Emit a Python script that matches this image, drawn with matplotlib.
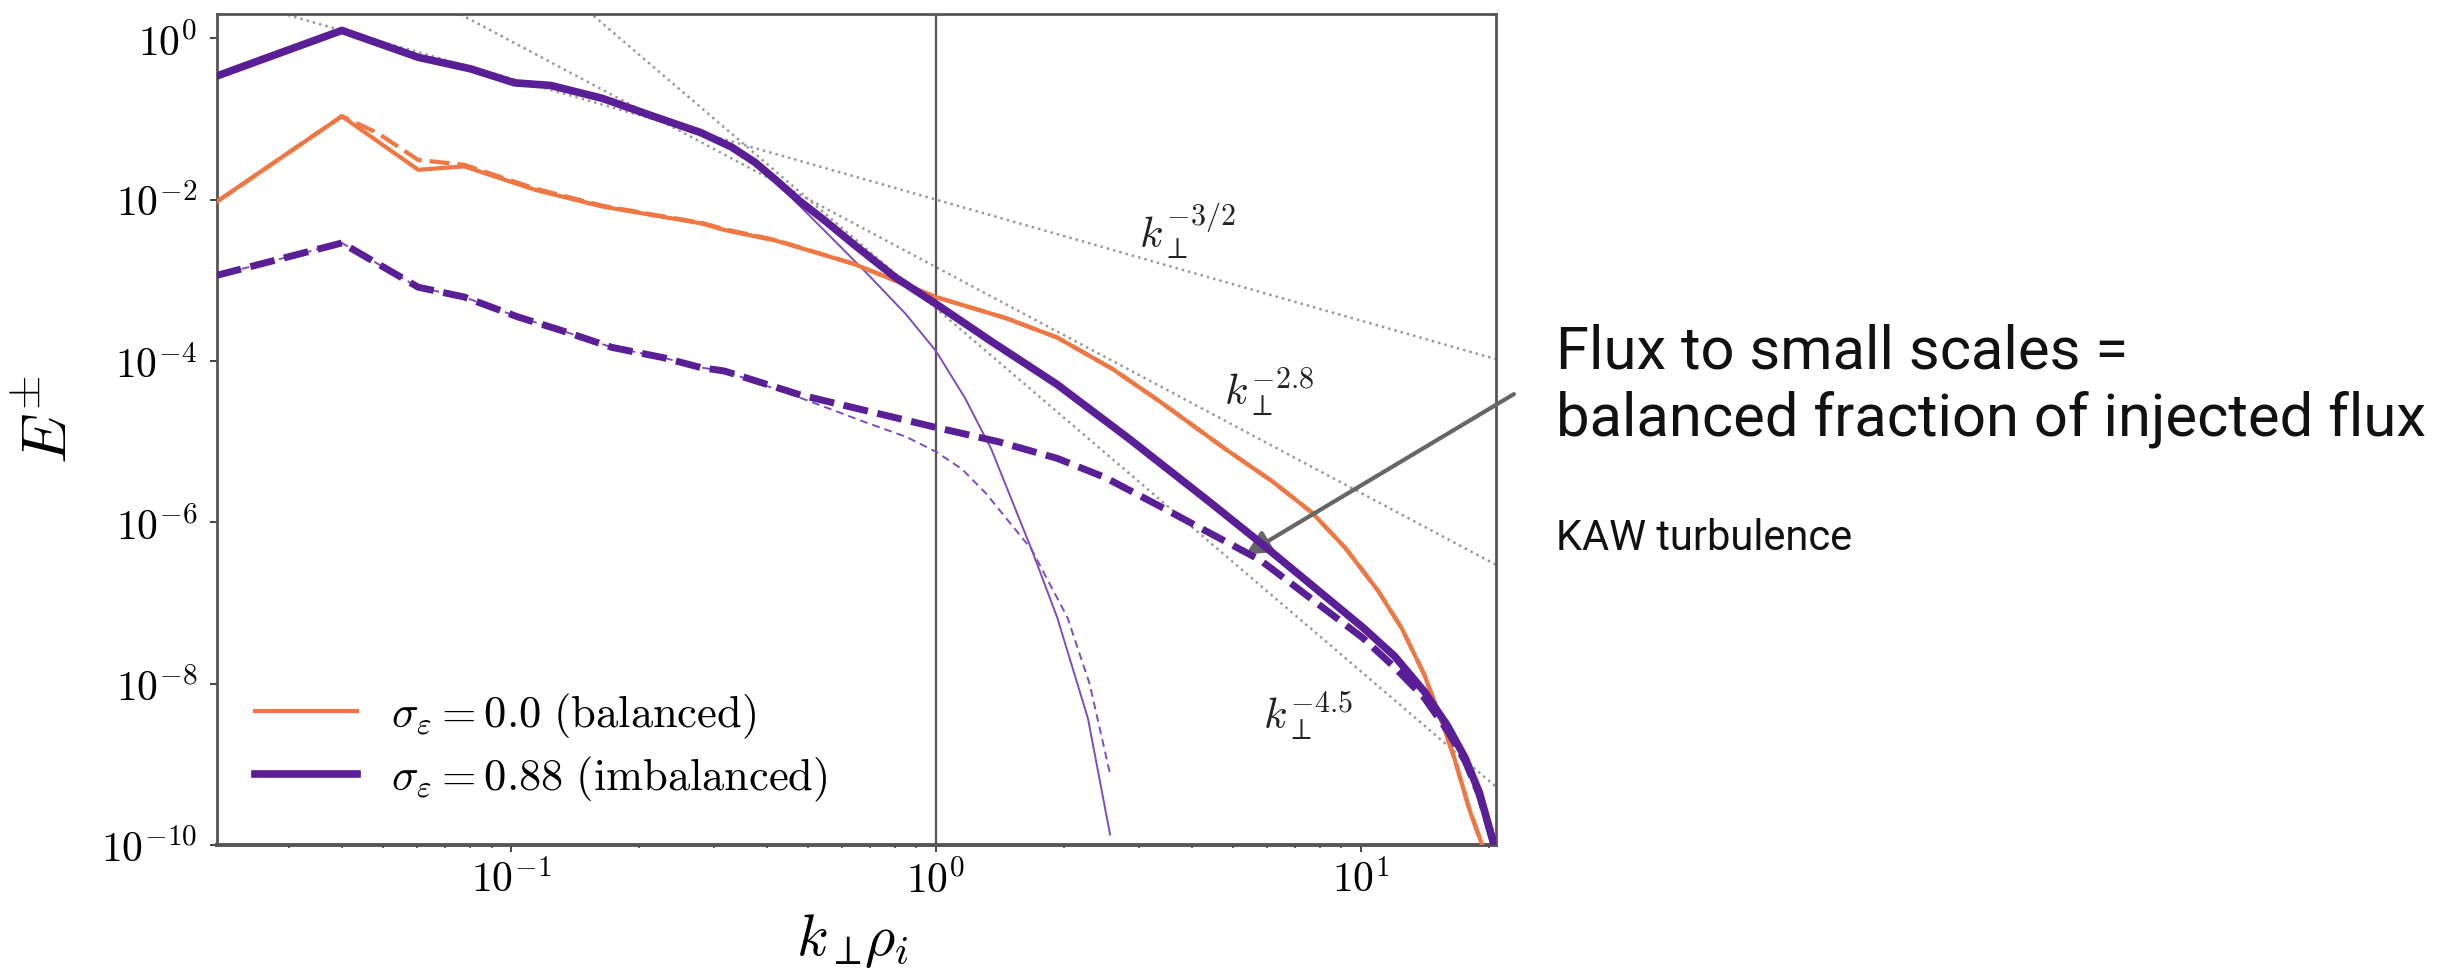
import numpy as np
import matplotlib
matplotlib.use("Agg")
import matplotlib.pyplot as plt
from matplotlib.ticker import FixedLocator, FixedFormatter, LogLocator, NullFormatter, NullLocator

plt.rcParams['mathtext.fontset'] = 'cm'
plt.rcParams['font.family'] = ['DejaVu Sans']

# ---------------- data ----------------
# imbalanced (sigma = 0.88), E+ (thick solid)
k_imb_p = [0.0203, 0.040, 0.0605, 0.080, 0.102, 0.124, 0.164, 0.216, 0.279, 0.33, 0.375,
           0.42, 0.479, 0.55, 0.64, 0.80, 1.0, 1.35, 1.93, 2.84, 4.4, 5.8, 10.1, 12.0,
           14.1, 16.0, 17.6, 19.0, 20.6]
E_imb_p = [0.34, 1.25, 0.58, 0.42, 0.28, 0.26, 0.18, 0.108, 0.068, 0.045, 0.029,
           0.0175, 0.0095, 0.0054, 0.0028, 1.1e-3, 5.1e-4, 1.75e-4, 5.1e-5, 1.1e-5, 1.8e-6,
           5.6e-7, 5.0e-8, 2.2e-8, 8.0e-9, 3.0e-9, 1.2e-9, 4.5e-10, 1.0e-10]
# imbalanced, E- (thick dashed)
k_imb_m = [0.0203, 0.040, 0.0605, 0.0776, 0.104, 0.131, 0.173, 0.228, 0.279, 0.318,
           0.479, 1.0, 1.4, 1.93, 2.5, 3.35, 5.8, 10.1, 12.0, 14.1, 16.0, 17.6, 19.0, 20.6]
E_imb_m = [1.15e-3, 2.9e-3, 8.2e-4, 6.2e-4, 3.5e-4, 2.4e-4, 1.47e-4, 1.1e-4, 8.3e-5, 7.5e-5,
           3.8e-5, 1.5e-5, 1.0e-5, 6.2e-6, 3.6e-6, 1.6e-6, 3.4e-7, 3.7e-8, 1.6e-8, 6.7e-9,
           2.6e-9, 1.1e-9, 4.2e-10, 1.0e-10]
# balanced (sigma = 0.0), E+ (solid)
k_bal_p = [0.0203, 0.040, 0.0605, 0.0776, 0.114, 0.164, 0.228, 0.279, 0.318, 0.42,
           0.64, 1.0, 1.46, 1.93, 2.6, 3.35, 4.8, 6.2, 7.7, 9.2, 11.0, 12.5, 14.1, 15.4,
           16.6, 18.0, 19.3, 20.8]
E_bal_p = [9.4e-3, 0.108, 0.0234, 0.0258, 0.0132, 8.2e-3, 6.1e-3, 5.1e-3, 4.2e-3, 3.1e-3,
           1.6e-3, 6.2e-4, 3.4e-4, 1.95e-4, 8.0e-5, 3.2e-5, 8.1e-6, 3.2e-6, 1.3e-6, 4.8e-7,
           1.4e-7, 4.8e-8, 1.3e-8, 3.8e-9, 1.2e-9, 2.8e-10, 1.0e-10, 1.0e-11]
# balanced, E- (dashed)
k_bal_m = [0.0203, 0.040, 0.0485, 0.0605, 0.0776, 0.114, 0.164, 0.228, 0.279, 0.318, 0.42,
           0.64, 1.0, 1.46, 1.93, 2.6, 3.35, 4.8, 6.2, 7.7, 9.2, 11.0, 12.5, 14.1, 15.4,
           16.6, 18.0, 19.3, 20.8]
E_bal_m = [9.4e-3, 0.108, 0.067, 0.031, 0.027, 0.0137, 8.4e-3, 6.2e-3, 5.2e-3, 4.3e-3, 3.15e-3,
           1.6e-3, 6.2e-4, 3.4e-4, 1.95e-4, 8.0e-5, 3.2e-5, 8.1e-6, 3.2e-6, 1.3e-6, 4.8e-7,
           1.4e-7, 4.8e-8, 1.3e-8, 3.8e-9, 1.2e-9, 2.8e-10, 1.0e-10, 1.0e-11]
# thin solid / thin dashed (imbalanced, second set)
k_thin_p = [0.0203, 0.040, 0.0605, 0.080, 0.102, 0.124, 0.164, 0.216, 0.279, 0.33, 0.375,
            0.42, 0.55, 0.69, 0.85, 1.0, 1.17, 1.35, 1.68, 1.93, 2.28, 2.57]
E_thin_p = [0.34, 1.25, 0.58, 0.42, 0.28, 0.26, 0.18, 0.108, 0.068, 0.045, 0.029,
            0.0165, 4.0e-3, 1.2e-3, 3.8e-4, 1.33e-4, 3.5e-5, 8.1e-6, 4.6e-7, 6.6e-8, 3.7e-9,
            1.35e-10]
k_thin_m = [0.0203, 0.040, 0.0605, 0.0776, 0.104, 0.131, 0.173, 0.228, 0.279, 0.318,
            0.479, 0.69, 0.85, 1.0, 1.15, 1.31, 1.68, 2.04, 2.3, 2.57]
E_thin_m = [1.15e-3, 2.9e-3, 8.2e-4, 6.2e-4, 3.5e-4, 2.4e-4, 1.47e-4, 1.1e-4, 8.3e-5, 7.5e-5,
            3.5e-5, 1.7e-5, 1.15e-5, 7.5e-6, 4.6e-6, 2.3e-6, 4.6e-7, 6.6e-8, 1.0e-8, 7.6e-10]

# power-law guides: amplitude at k=1 and exponent
guide_amp = [1.0e-2, 1.46e-3, 4.5e-4]
guide_exp = [-1.5, -2.8, -4.5]
guide_lbl = [r'$k_\perp^{-3/2}$', r'$k_\perp^{-2.8}$', r'$k_\perp^{-4.5}$']
guide_lbl_pos = [(3.9, 4.2e-3), (6.1, 4.2e-5), (7.5, 4.1e-9)]

legend_labels = [r'$\sigma_\varepsilon = 0.0\ \mathrm{(balanced)}$',
                 r'$\sigma_\varepsilon = 0.88\ \mathrm{(imbalanced)}$']

y_ticks = [1e0, 1e-2, 1e-4, 1e-6, 1e-8, 1e-10]
y_tick_labels = [r'$10^{0}$', r'$10^{-2}$', r'$10^{-4}$', r'$10^{-6}$', r'$10^{-8}$', r'$10^{-10}$']
x_ticks = [1e-1, 1e0, 1e1]
x_tick_labels = [r'$10^{-1}$', r'$10^{0}$', r'$10^{1}$']

note_lines = ['Flux to small scales =', 'balanced fraction of injected flux']
note_small = 'KAW turbulence'

# ---------------- styling ----------------
ORANGE = '#EE7743'
PURPLE = '#5A1E96'
THIN = '#7E4BC0'
GUIDE = '#9a9a9a'

fig = plt.figure(figsize=(24.6, 9.78), dpi=100)
ax = fig.add_axes([0.0881, 0.135, 0.52, 0.8497])
ax.set_xscale('log')
ax.set_yscale('log')
ax.set_xlim(0.0203, 20.8)
ax.set_ylim(1e-10, 2.0)

kg = np.geomspace(0.0203, 20.8, 60)
for a, p in zip(guide_amp, guide_exp):
    ax.plot(kg, a * kg ** p, color=GUIDE, lw=1.8, ls=(0, (1, 1.6)), zorder=1)
for t, (x, y) in zip(guide_lbl, guide_lbl_pos):
    ax.text(x, y, t, fontsize=31, ha='center', va='center', color='#222222')

ax.axvline(1.0, color='#555555', lw=1.6, zorder=1)

ax.plot(k_thin_p, E_thin_p, color=THIN, lw=1.4, zorder=2)
ax.plot(k_thin_m, E_thin_m, color=THIN, lw=1.4, ls=(0, (4, 2.6)), zorder=2)
ax.plot(k_bal_m, E_bal_m, color=ORANGE, lw=3.0, ls=(0, (4.8, 1.9)), zorder=3)
l1, = ax.plot(k_bal_p, E_bal_p, color=ORANGE, lw=3.0, zorder=3)
ax.plot(k_imb_m, E_imb_m, color=PURPLE, lw=5.0, ls=(0, (3.6, 1.4)), zorder=4)
l2, = ax.plot(k_imb_p, E_imb_p, color=PURPLE, lw=5.5, zorder=4)

leg = ax.legend([l1, l2], legend_labels, loc='lower left', bbox_to_anchor=(0.03, 0.05),
                frameon=False, fontsize=32, handlelength=2.3, handletextpad=0.75,
                labelspacing=0.32, borderpad=0, borderaxespad=0)

ax.yaxis.set_major_locator(FixedLocator(y_ticks))
ax.yaxis.set_major_formatter(FixedFormatter(y_tick_labels))
ax.yaxis.set_minor_locator(NullLocator())
ax.xaxis.set_major_locator(FixedLocator(x_ticks))
ax.xaxis.set_major_formatter(FixedFormatter(x_tick_labels))
ax.xaxis.set_minor_locator(LogLocator(base=10, subs=np.arange(2, 10)))
ax.xaxis.set_minor_formatter(NullFormatter())
ax.tick_params(which='major', direction='out', length=5, width=1.4, color='#444444',
               labelsize=30)
ax.tick_params(axis='y', which='major', pad=9)
ax.tick_params(axis='x', which='major', pad=5)
ax.tick_params(which='minor', direction='out', length=2.5, width=1.2, color='#444444')
for s in ax.spines.values():
    s.set_color('#555555')
    s.set_linewidth(2.0)
ax.spines['bottom'].set_linewidth(2.8)

ax.set_ylabel(r'$E^{\pm}$', fontsize=46)
ax.yaxis.label.set(ha='center', va='center')
ax.yaxis.set_label_coords(-0.132, 0.513)
ax.set_xlabel(r'$k_\perp\!\rho_i$', fontsize=42)
ax.xaxis.label.set(ha='center', va='baseline')
ax.xaxis.set_label_coords(0.497, -0.131)

# annotation on the right
fig.text(0.6325, 0.6227, note_lines[0], fontsize=43, family='Roboto',
         ha='left', va='baseline', color='#111111')
fig.text(0.6325, 0.5542, note_lines[1], fontsize=43, family='Roboto',
         ha='left', va='baseline', color='#111111')
fig.text(0.6325, 0.4376, note_small, fontsize=30, family='Roboto',
         ha='left', va='baseline', color='#111111')
ax.annotate('', xy=(5.36, 4.0e-7), xycoords='data', xytext=(0.6154, 0.596),
            textcoords='figure fraction',
            arrowprops=dict(arrowstyle='-|>', color='#666666', lw=3,
                            mutation_scale=36, shrinkA=0, shrinkB=0),
            annotation_clip=False)

fig.savefig('out.png', dpi=100)
